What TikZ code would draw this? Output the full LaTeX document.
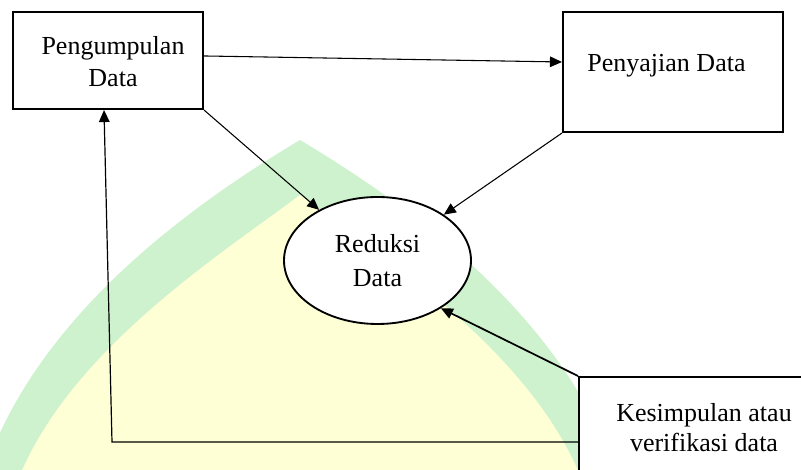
\documentclass[tikz,border=0pt]{standalone}
\usepackage{fontspec}
\setmainfont{Liberation Serif}
\usetikzlibrary{shapes.geometric,arrows.meta}
\definecolor{wmgreen}{RGB}{205,242,205}
\definecolor{wmyellow}{RGB}{255,255,214}
\begin{document}
\begin{tikzpicture}[x=0.75pt,y=-0.75pt,
  boxnode/.style={draw,line width=1.6pt,fill=white,rectangle,inner sep=0pt},
  txt/.style={inner sep=0pt,align=center,font=\fontsize{19.5}{24}\selectfont},
  arr/.style={-{Triangle[length=9pt,width=8pt]},line width=0.8pt}]
\clip (0,0) rectangle (801,470);
\fill[white] (0,0) rectangle (801,470);
% watermark
\fill[wmgreen] (-15,470) .. controls (40,310) and (200,200) .. (300,140)
  .. controls (400,200) and (560,310) .. (615,470) -- cycle;
\fill[wmyellow] (18,480) .. controls (70,350) and (220,255) .. (300,195)
  .. controls (380,255) and (530,350) .. (582,480) -- cycle;
% boxes
\node[boxnode,minimum width=142.5pt,minimum height=72.75pt] (pd) at (108,60.5) {};
\node[boxnode,minimum width=165pt,minimum height=90pt] (ps) at (673,72) {};
\node[boxnode,anchor=north west,minimum width=195pt,minimum height=97.5pt] (kes) at (578,376) {};
\node[ellipse,draw,line width=1.4pt,fill=white,minimum width=140.25pt,minimum height=95.25pt,inner sep=0pt,
  align=center,font=\fontsize{19.5}{25.5}\selectfont] (rd) at (377.5,260.5) {Reduksi\\Data};
% texts
\node[txt] (pdt) at (113,62) {Pengumpulan\\Data};
\node[txt,anchor=base] (pst) at (666.5,72) {Penyajian Data};
\node[txt,font=\fontsize{19.5}{22.5}\selectfont] (kest) at (704,428) {Kesimpulan atau\\verifikasi data};
% connectors
\coordinate (cor) at (112,442);
\draw[arr] ([yshift=3.4pt]pd.east) -- ([yshift=7.5pt]ps.west);
\draw[arr] (pd.south east) -- (rd);
\draw[arr] (ps.south west) -- (rd);
\draw[arr,line width=1.3pt] (kes.north west) -- (rd.-37);
\draw[arr,line width=0.9pt] (kes.west) -- (cor) -- ([xshift=-3pt]pd.south);
\end{tikzpicture}
\end{document}
